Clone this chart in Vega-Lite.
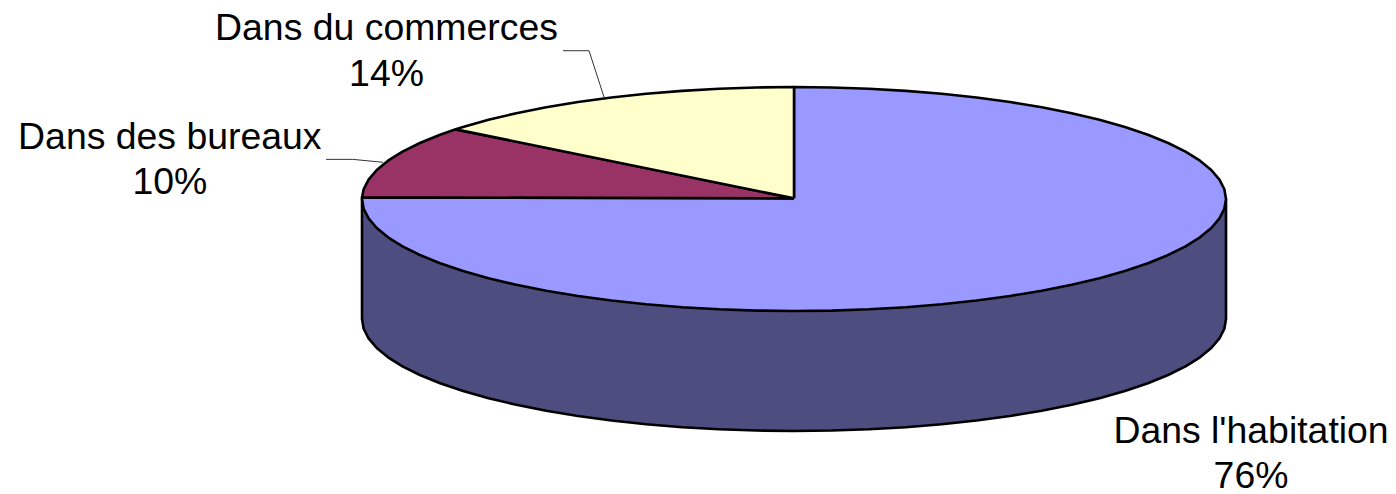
{"$schema":"https://vega.github.io/schema/vega-lite/v6.json","width":1396,"height":494,"padding":0,"autosize":{"type":"none"},"background":"white","config":{"view":{"stroke":null}},
"encoding":{"x":{"field":"x","type":"quantitative","axis":null,"scale":{"domain":[-183.8,139.35],"nice":false,"zero":false}},"y":{"field":"y","type":"quantitative","axis":null,"scale":{"domain":[-263.4,177.7],"nice":false,"zero":false}},"order":{"field":"i","type":"quantitative"}},
"layer":[
{"data":{"values":[{"i":0,"x":100,"y":0},{"i":1,"x":100,"y":-107.14},{"i":2,"x":99.62,"y":-115.86},{"i":3,"x":98.48,"y":-124.5},{"i":4,"x":96.59,"y":-133.02},{"i":5,"x":93.97,"y":-141.34},{"i":6,"x":90.63,"y":-149.4},{"i":7,"x":86.6,"y":-157.14},{"i":8,"x":81.92,"y":-164.5},{"i":9,"x":76.6,"y":-171.42},{"i":10,"x":70.71,"y":-177.85},{"i":11,"x":64.28,"y":-183.74},{"i":12,"x":57.36,"y":-189.06},{"i":13,"x":50,"y":-193.74},{"i":14,"x":42.26,"y":-197.77},{"i":15,"x":34.2,"y":-201.11},{"i":16,"x":25.88,"y":-203.73},{"i":17,"x":17.36,"y":-205.62},{"i":18,"x":8.72,"y":-206.76},{"i":19,"x":0,"y":-207.14},{"i":20,"x":-8.72,"y":-206.76},{"i":21,"x":-17.36,"y":-205.62},{"i":22,"x":-25.88,"y":-203.73},{"i":23,"x":-34.2,"y":-201.11},{"i":24,"x":-42.26,"y":-197.77},{"i":25,"x":-50,"y":-193.74},{"i":26,"x":-57.36,"y":-189.06},{"i":27,"x":-64.28,"y":-183.74},{"i":28,"x":-70.71,"y":-177.85},{"i":29,"x":-76.6,"y":-171.42},{"i":30,"x":-81.92,"y":-164.5},{"i":31,"x":-86.6,"y":-157.14},{"i":32,"x":-90.63,"y":-149.4},{"i":33,"x":-93.97,"y":-141.34},{"i":34,"x":-96.59,"y":-133.02},{"i":35,"x":-98.48,"y":-124.5},{"i":36,"x":-99.62,"y":-115.86},{"i":37,"x":-100,"y":-107.14},{"i":38,"x":-100,"y":0},{"i":39,"x":100,"y":0}]},
"mark":{"type":"line","fill":"#4d4d80","stroke":"#000000","strokeWidth":2.6,"strokeJoin":"round"}},
{"data":{"values":[{"i":0,"x":0,"y":0.6},{"i":1,"x":0,"y":100},{"i":2,"x":8.72,"y":99.62},{"i":3,"x":17.36,"y":98.48},{"i":4,"x":25.88,"y":96.59},{"i":5,"x":34.2,"y":93.97},{"i":6,"x":42.26,"y":90.63},{"i":7,"x":50,"y":86.6},{"i":8,"x":57.36,"y":81.92},{"i":9,"x":64.28,"y":76.6},{"i":10,"x":70.71,"y":70.71},{"i":11,"x":76.6,"y":64.28},{"i":12,"x":81.92,"y":57.36},{"i":13,"x":86.6,"y":50},{"i":14,"x":90.63,"y":42.26},{"i":15,"x":93.97,"y":34.2},{"i":16,"x":96.59,"y":25.88},{"i":17,"x":98.48,"y":17.36},{"i":18,"x":99.62,"y":8.72},{"i":19,"x":100,"y":0},{"i":20,"x":99.62,"y":-8.72},{"i":21,"x":98.48,"y":-17.36},{"i":22,"x":96.59,"y":-25.88},{"i":23,"x":93.97,"y":-34.2},{"i":24,"x":90.63,"y":-42.26},{"i":25,"x":86.6,"y":-50},{"i":26,"x":81.92,"y":-57.36},{"i":27,"x":76.6,"y":-64.28},{"i":28,"x":70.71,"y":-70.71},{"i":29,"x":64.28,"y":-76.6},{"i":30,"x":57.36,"y":-81.92},{"i":31,"x":50,"y":-86.6},{"i":32,"x":42.26,"y":-90.63},{"i":33,"x":34.2,"y":-93.97},{"i":34,"x":25.88,"y":-96.59},{"i":35,"x":17.36,"y":-98.48},{"i":36,"x":8.72,"y":-99.62},{"i":37,"x":0,"y":-100},{"i":38,"x":-8.72,"y":-99.62},{"i":39,"x":-17.36,"y":-98.48},{"i":40,"x":-25.88,"y":-96.59},{"i":41,"x":-34.2,"y":-93.97},{"i":42,"x":-42.26,"y":-90.63},{"i":43,"x":-50,"y":-86.6},{"i":44,"x":-57.36,"y":-81.92},{"i":45,"x":-64.28,"y":-76.6},{"i":46,"x":-70.71,"y":-70.71},{"i":47,"x":-76.6,"y":-64.28},{"i":48,"x":-81.92,"y":-57.36},{"i":49,"x":-86.6,"y":-50},{"i":50,"x":-90.63,"y":-42.26},{"i":51,"x":-93.97,"y":-34.2},{"i":52,"x":-96.59,"y":-25.88},{"i":53,"x":-98.48,"y":-17.36},{"i":54,"x":-99.62,"y":-8.72},{"i":55,"x":-100,"y":0},{"i":56,"x":-99.99,"y":1.5},{"i":57,"x":0,"y":0.6}]},
"mark":{"type":"line","fill":"#9999ff","stroke":"#000000","strokeWidth":2.6,"strokeJoin":"round"}},
{"data":{"values":[{"i":0,"x":0,"y":0.6},{"i":1,"x":-99.99,"y":1.5},{"i":2,"x":-99.62,"y":8.72},{"i":3,"x":-98.48,"y":17.36},{"i":4,"x":-96.59,"y":25.88},{"i":5,"x":-93.97,"y":34.2},{"i":6,"x":-90.63,"y":42.26},{"i":7,"x":-86.6,"y":50},{"i":8,"x":-81.92,"y":57.36},{"i":9,"x":-78.3,"y":62.2},{"i":10,"x":0,"y":0.6}]},
"mark":{"type":"line","fill":"#993366","stroke":"#000000","strokeWidth":2.6,"strokeJoin":"round"}},
{"data":{"values":[{"i":0,"x":0,"y":0.6},{"i":1,"x":-78.3,"y":62.2},{"i":2,"x":-76.6,"y":64.28},{"i":3,"x":-70.71,"y":70.71},{"i":4,"x":-64.28,"y":76.6},{"i":5,"x":-57.36,"y":81.92},{"i":6,"x":-50,"y":86.6},{"i":7,"x":-42.26,"y":90.63},{"i":8,"x":-34.2,"y":93.97},{"i":9,"x":-25.88,"y":96.59},{"i":10,"x":-17.36,"y":98.48},{"i":11,"x":-8.72,"y":99.62},{"i":12,"x":0,"y":100},{"i":13,"x":0,"y":0.6}]},
"mark":{"type":"line","fill":"#ffffcc","stroke":"#000000","strokeWidth":2.6,"strokeJoin":"round"}},
{"data":{"values":[{"s":"commerces","i":0,"x":-53.47,"y":132.4},{"s":"commerces","i":1,"x":-47.45,"y":132.4},{"s":"commerces","i":2,"x":-43.98,"y":91.07},{"s":"bureaux","i":0,"x":-108.33,"y":35.4},{"s":"bureaux","i":1,"x":-102.15,"y":35.4},{"s":"bureaux","i":2,"x":-95.14,"y":32.77}]},
"mark":{"type":"line","stroke":"#333333","strokeWidth":1},"encoding":{"detail":{"field":"s"}}},
{"data":{"values":[{"label":"Dans du commerces","x":-94.33,"y":141.96},{"label":"14%","x":-94.33,"y":100.89},{"label":"Dans des bureaux","x":-144.49,"y":44.64},{"label":"10%","x":-144.49,"y":4.46},{"label":"Dans l'habitation","x":105.79,"y":-217.86},{"label":"76%","x":105.79,"y":-258.04}]},
"mark":{"type":"text","font":"Liberation Sans","fontSize":37.4,"color":"#000000","align":"center","baseline":"alphabetic"},"encoding":{"text":{"field":"label"},"order":{"value":null}}}
]}
